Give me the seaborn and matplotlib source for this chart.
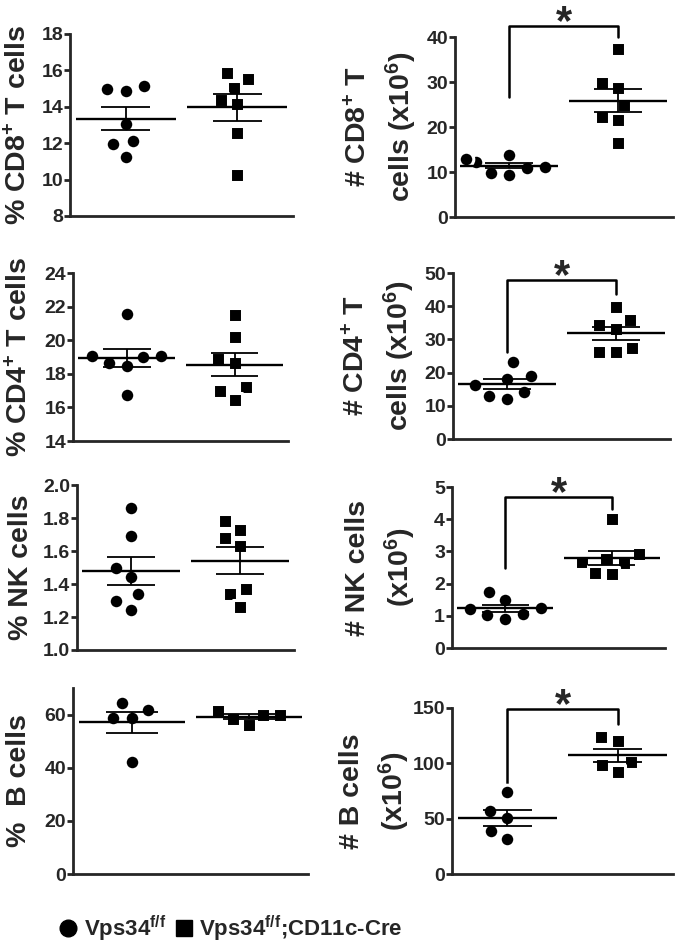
import pandas as pd
import matplotlib
matplotlib.use("Agg")
import matplotlib.pyplot as plt
import seaborn as sns
from matplotlib.lines import Line2D

# Valores (WT = Vps34 f/f, KO = Vps34 f/f;CD11c-Cre)
grupos = ["wt", "ko"]

cd8_pct_wt = [15.14, 14.89, 14.96, 13.05, 12.14, 11.96, 11.26]
cd8_pct_ko = [15.55, 15.84, 15.03, 14.37, 14.15, 12.54, 10.27]
cd8_num_wt = [12.3, 10.8, 9.4, 13.8, 9.9, 11.2, 12.8]
cd8_num_ko = [37.4, 28.8, 29.8, 24.9, 22.3, 21.5, 16.5]

cd4_pct_wt = [21.57, 19.06, 18.66, 18.46, 18.98, 19.06, 16.75]
cd4_pct_ko = [21.49, 20.18, 18.86, 18.66, 17.19, 16.99, 16.47]
cd4_num_wt = [23.1, 19.1, 18.1, 16.4, 14.1, 12.0, 12.9]
cd4_num_ko = [39.8, 34.4, 35.7, 33.1, 27.4, 26.1, 26.1]

nk_pct_wt = [1.86, 1.69, 1.50, 1.44, 1.34, 1.30, 1.24]
nk_pct_ko = [1.78, 1.73, 1.68, 1.63, 1.37, 1.34, 1.26]
nk_num_wt = [1.73, 1.49, 1.24, 1.22, 1.05, 0.91, 1.01]
nk_num_ko = [4.02, 2.91, 2.63, 2.76, 2.66, 2.29, 2.32]

b_pct_wt = [64.5, 61.75, 58.75, 58.75, 42.0]
b_pct_ko = [61.5, 60.0, 56.25, 58.5, 60.0]
b_num_wt = [74.1, 56.6, 50.6, 39.2, 31.9]
b_num_ko = [123.5, 120.5, 101.2, 98.2, 92.2]

# corchetes de significancia: (alto, pata izquierda, pata derecha)
corchete_cd8 = (42.6, 26.6, 40.0)
corchete_cd4 = (47.8, 26.1, 43.8)
corchete_nk = (4.69, 2.49, 4.33)
corchete_b = (149.4, 82.2, 135.5)

leyenda = ["Vps34$^{f/f}$", "Vps34$^{f/f}$;CD11c-Cre"]

sns.set_style("ticks")
plt.rcParams["font.family"] = ["Liberation Sans", "DejaVu Sans"]
plt.rcParams["font.weight"] = "bold"
plt.rcParams["mathtext.default"] = "regular"
plt.rcParams["axes.linewidth"] = 2


def panel(ax, wt, ko, ylim, ticks, etiqueta, label_x, fmt="{:g}", corchete=None):
    df = pd.DataFrame({"grupo": ["wt"] * len(wt) + ["ko"] * len(ko),
                       "valor": wt + ko})
    # borde blanco para separar más los puntos del enjambre
    sns.swarmplot(data=df[df.grupo == "wt"], x="grupo", y="valor", order=grupos,
                  marker="o", color="black", size=10.5, linewidth=2.2,
                  edgecolor="white", ax=ax)
    sns.swarmplot(data=df[df.grupo == "ko"], x="grupo", y="valor", order=grupos,
                  marker="s", color="black", size=9.5, linewidth=2.2,
                  edgecolor="white", ax=ax)

    stats = df.groupby("grupo")["valor"].agg(["mean", "sem"]).reindex(grupos)
    for i, (m, s) in enumerate(zip(stats["mean"], stats["sem"])):
        ax.hlines(m, i - 0.45, i + 0.45, color="black", lw=1.7, zorder=4)
        ax.hlines([m - s, m + s], i - 0.22, i + 0.22, color="black", lw=1.3, zorder=4)
        ax.vlines(i, m - s, m + s, color="black", lw=1.3, zorder=4)

    if corchete is not None:
        alto, izq, der = corchete
        ax.plot([0, 0, 1, 1], [izq, alto, alto, der], color="black", lw=1.8,
                clip_on=False)
        ax.annotate("*", xy=(0.5, alto), xytext=(0, 2), textcoords="offset points",
                    ha="center", va="center", fontsize=30, fontweight="bold",
                    annotation_clip=False)

    ax.set_xlim(-0.5, 1.5)
    ax.set_ylim(*ylim)
    ax.set_yticks(ticks)
    ax.set_yticklabels([fmt.format(t) for t in ticks])
    ax.set_xticks([])
    ax.set_xlabel("")
    ax.set_ylabel(etiqueta, fontsize=20.5, fontweight="bold", linespacing=1.45)
    ax.yaxis.set_label_coords(label_x, 0.5)
    ax.tick_params(axis="y", length=4, width=2, labelsize=14, pad=1)
    sns.despine(ax=ax)


fig = plt.figure(figsize=(6.77, 9.46), dpi=100)

ax1 = fig.add_axes([0.1034, 0.7717, 0.329, 0.1924])
ax2 = fig.add_axes([0.672, 0.7706, 0.322, 0.190])
ax3 = fig.add_axes([0.108, 0.5338, 0.318, 0.1776])
ax4 = fig.add_axes([0.669, 0.5359, 0.321, 0.1755])
ax5 = fig.add_axes([0.1137, 0.3129, 0.3205, 0.1744])
ax6 = fig.add_axes([0.6677, 0.315, 0.3146, 0.1702])
ax7 = fig.add_axes([0.1078, 0.0761, 0.347, 0.1966])
ax8 = fig.add_axes([0.6677, 0.0761, 0.3264, 0.1755])

panel(ax1, cd8_pct_wt, cd8_pct_ko, (8, 18), range(8, 19, 2),
      "% CD8$^{+}$ T cells", -0.17)
panel(ax2, cd8_num_wt, cd8_num_ko, (0, 40), range(0, 41, 10),
      "# CD8$^{+}$ T\ncells (x10$^{6}$)", -0.165, corchete=corchete_cd8)
panel(ax3, cd4_pct_wt, cd4_pct_ko, (14, 24), range(14, 25, 2),
      "% CD4$^{+}$ T cells", -0.186)
panel(ax4, cd4_num_wt, cd4_num_ko, (0, 50), range(0, 51, 10),
      "# CD4$^{+}$ T\ncells (x10$^{6}$)", -0.165, corchete=corchete_cd4)
panel(ax5, nk_pct_wt, nk_pct_ko, (1.0, 2.0), [1.0, 1.2, 1.4, 1.6, 1.8, 2.0],
      "% NK cells", -0.2, fmt="{:.1f}")
panel(ax6, nk_num_wt, nk_num_ko, (0, 5), range(0, 6),
      "# NK cells\n(x10$^{6}$)", -0.16, corchete=corchete_nk)
panel(ax7, b_pct_wt, b_pct_ko, (0, 70), range(0, 61, 20),
      "%  B cells", -0.174)
panel(ax8, b_num_wt, b_num_ko, (0, 150), range(0, 151, 50),
      "# B cells\n(x10$^{6}$)", -0.18, corchete=corchete_b)

handles = [Line2D([], [], marker="o", ls="", color="black", markersize=12),
           Line2D([], [], marker="s", ls="", color="black", markersize=11)]
fig.legend(handles, leyenda, loc="center left", bbox_to_anchor=(0.058, 0.018),
           ncol=2, frameon=False, handletextpad=0.3, columnspacing=0.4,
           handlelength=0.8, prop={"weight": "bold", "size": 16})

fig.savefig("out.png", dpi=100)
